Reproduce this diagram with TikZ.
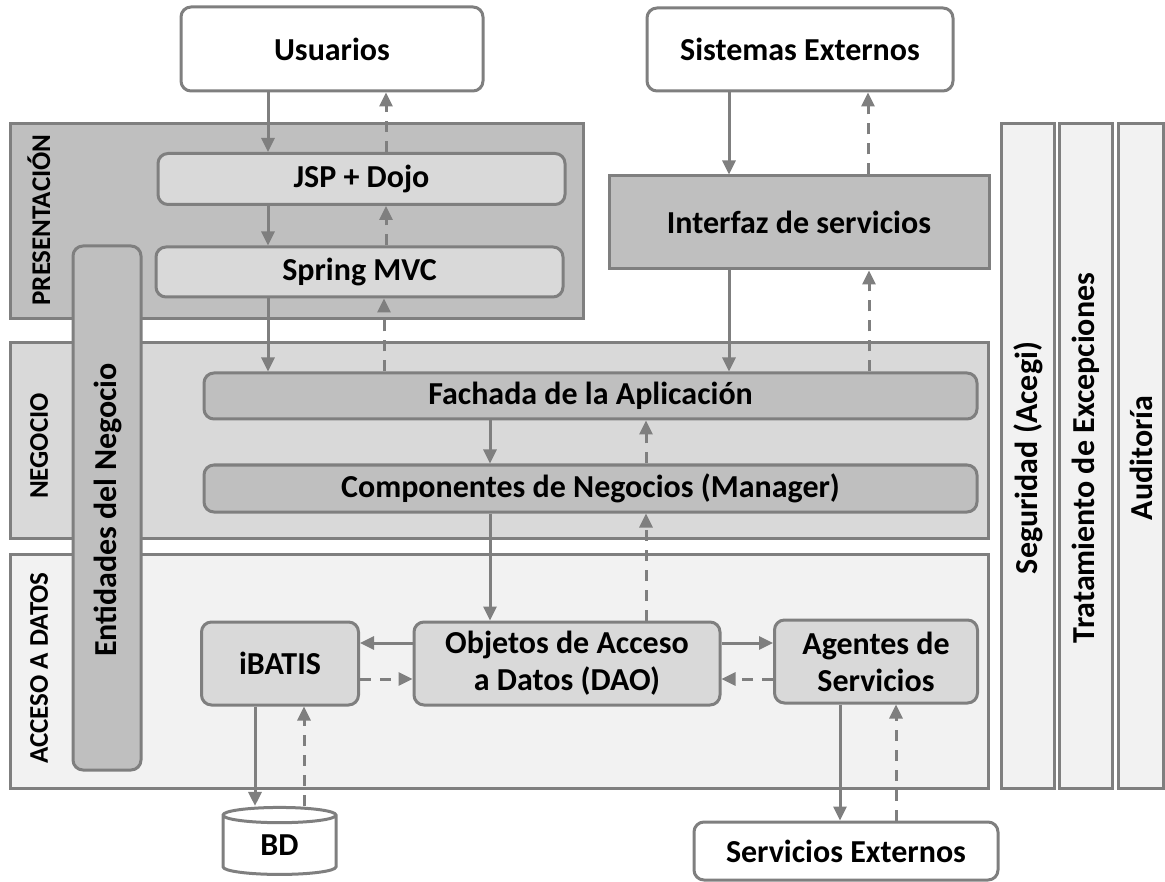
\documentclass[tikz,border=0pt]{standalone}
\usepackage{fontspec}
\setmainfont{Carlito}
\usetikzlibrary{arrows.meta, shapes.geometric, positioning}

\definecolor{edgegray}{HTML}{7F7F7F}
\definecolor{darkfill}{HTML}{BFBFBF}
\definecolor{midfill}{HTML}{D9D9D9}
\definecolor{lightfill}{HTML}{F2F2F2}

\begin{document}
\begin{tikzpicture}[x=1pt, y=-1pt, font=\bfseries\fontsize{32}{37}\selectfont,
    box/.style={draw=edgegray, line width=3pt, rounded corners=10pt, align=center, inner sep=0pt},
    panel/.style={draw=edgegray, line width=3pt, inner sep=0pt},
    tag/.style={rotate=90, font=\bfseries\fontsize{27}{30}\selectfont},
    coltag/.style={rotate=90},
    arr/.style={-{Triangle[length=14pt, width=13pt]}, draw=edgegray, line width=3pt},
    darr/.style={arr, dash pattern=on 11pt off 9pt}]
    \useasboundingbox (0,0) rectangle (1165,882);

    % capas
    \node[panel, fill=darkfill, minimum width=573, minimum height=195] (pres) at (296.5,221) {};
    \node[panel, fill=midfill, minimum width=978, minimum height=196] (neg) at (499,440.5) {};
    \node[panel, fill=lightfill, minimum width=978, minimum height=234] (acc) at (499,671) {};
    \node[tag] (presl) at (39,220) {PRESENTACIÓN};
    \node[tag] (negl) at (39,446) {NEGOCIO};
    \node[tag] (accl) at (39,668) {ACCESO A DATOS};

    % columnas transversales
    \node[panel, fill=lightfill, minimum width=53, minimum height=664] (seg) at (1027.5,456) {};
    \node[panel, fill=lightfill, minimum width=53, minimum height=664] (trat) at (1085.5,456) {};
    \node[panel, fill=lightfill, minimum width=45, minimum height=664] (aud) at (1140.5,456) {};
    \node[coltag] (segl) at (1028,458) {Seguridad (Acegi)};
    \node[coltag] (tratl) at (1086,458) {Tratamiento de Excepciones};
    \node[coltag] (audl) at (1141,458) {Auditoría};

    \node[box, fill=darkfill, minimum width=68, minimum height=524] (ent) at (107,508) {};
    \node[rotate=90] (entl) at (108,510) {Entidades del Negocio};

    % componentes
    \node[box, fill=white, minimum width=302, minimum height=84] (usr) at (332,49) {Usuarios};
    \node[box, fill=white, minimum width=306, minimum height=83] (sis) at (800,49.5) {Sistemas Externos};
    \node[box, fill=midfill, minimum width=407, minimum height=51] (jsp) at (361.5,179) {JSP + Dojo};
    \node[box, fill=midfill, minimum width=407, minimum height=50] (spr) at (359.5,272) {Spring MVC};
    \node[panel, fill=darkfill, minimum width=380, minimum height=93] (intf) at (799,222.5) {Interfaz de servicios};
    \node[box, fill=darkfill, minimum width=773, minimum height=46] (fach) at (590.5,396) {Fachada de la Aplicación};
    \node[box, fill=darkfill, minimum width=773, minimum height=47] (comp) at (590.5,488.5) {Componentes de Negocios (Manager)};
    \node[box, fill=midfill, minimum width=157, minimum height=83] (ibat) at (280,663.5) {iBATIS};
    \node[box, fill=midfill, minimum width=306, minimum height=83] (dao) at (567,663.5) {Objetos de Acceso\\a Datos (DAO)};
    \node[box, fill=midfill, minimum width=203, minimum height=83] (agt) at (876,661.5) {Agentes de\\Servicios};
    \node[cylinder, shape border rotate=90, aspect=0.4, draw=edgegray, line width=3pt, fill=white,
        minimum width=113, minimum height=67, inner sep=0pt] (bd) at (279.5,845.5) {BD};
    \node[box, fill=white, minimum width=304, minimum height=58] (srv) at (846,851) {Servicios Externos};

    % flujos
    \draw[arr] (usr.south -| 268,0) -- (jsp.north -| 268,0);
    \draw[darr] (jsp.north -| 386,0) -- (usr.south -| 386,0);
    \draw[arr] (jsp.south -| 268,0) -- (spr.north -| 268,0);
    \draw[darr] (spr.north -| 386,0) -- (jsp.south -| 386,0);
    \draw[arr] (spr.south -| 268,0) -- (fach.north -| 268,0);
    \draw[darr] (fach.north -| 384,0) -- (spr.south -| 384,0);
    \draw[arr] (sis.south -| 729,0) -- (intf.north -| 729,0);
    \draw[darr] (intf.north -| 868,0) -- (sis.south -| 868,0);
    \draw[arr] (intf.south -| 729,0) -- (fach.north -| 729,0);
    \draw[darr] (fach.north -| 869,0) -- (intf.south -| 869,0);
    \draw[arr] (fach.south -| 490,0) -- (comp.north -| 490,0);
    \draw[darr] (comp.north -| 646,0) -- (fach.south -| 646,0);
    \draw[arr] (comp.south -| 490,0) -- (dao.north -| 490,0);
    \draw[darr] (dao.north -| 646,0) -- (comp.south -| 646,0);
    \draw[arr] (dao.west |- 0,643) -- (ibat.east |- 0,643);
    \draw[darr] (ibat.east |- 0,679) -- (dao.west |- 0,679);
    \draw[arr] (dao.east |- 0,643) -- (agt.west |- 0,643);
    \draw[darr] (agt.west |- 0,679) -- (dao.east |- 0,679);
    \draw[arr] (ibat.south -| 255,0) -- (bd.north -| 255,0);
    \draw[darr] (bd.north -| 304,0) -- (ibat.south -| 304,0);
    \draw[arr] (agt.south -| 840,0) -- (srv.north -| 840,0);
    \draw[darr] (srv.north -| 896,0) -- (agt.south -| 896,0);
\end{tikzpicture}
\end{document}
